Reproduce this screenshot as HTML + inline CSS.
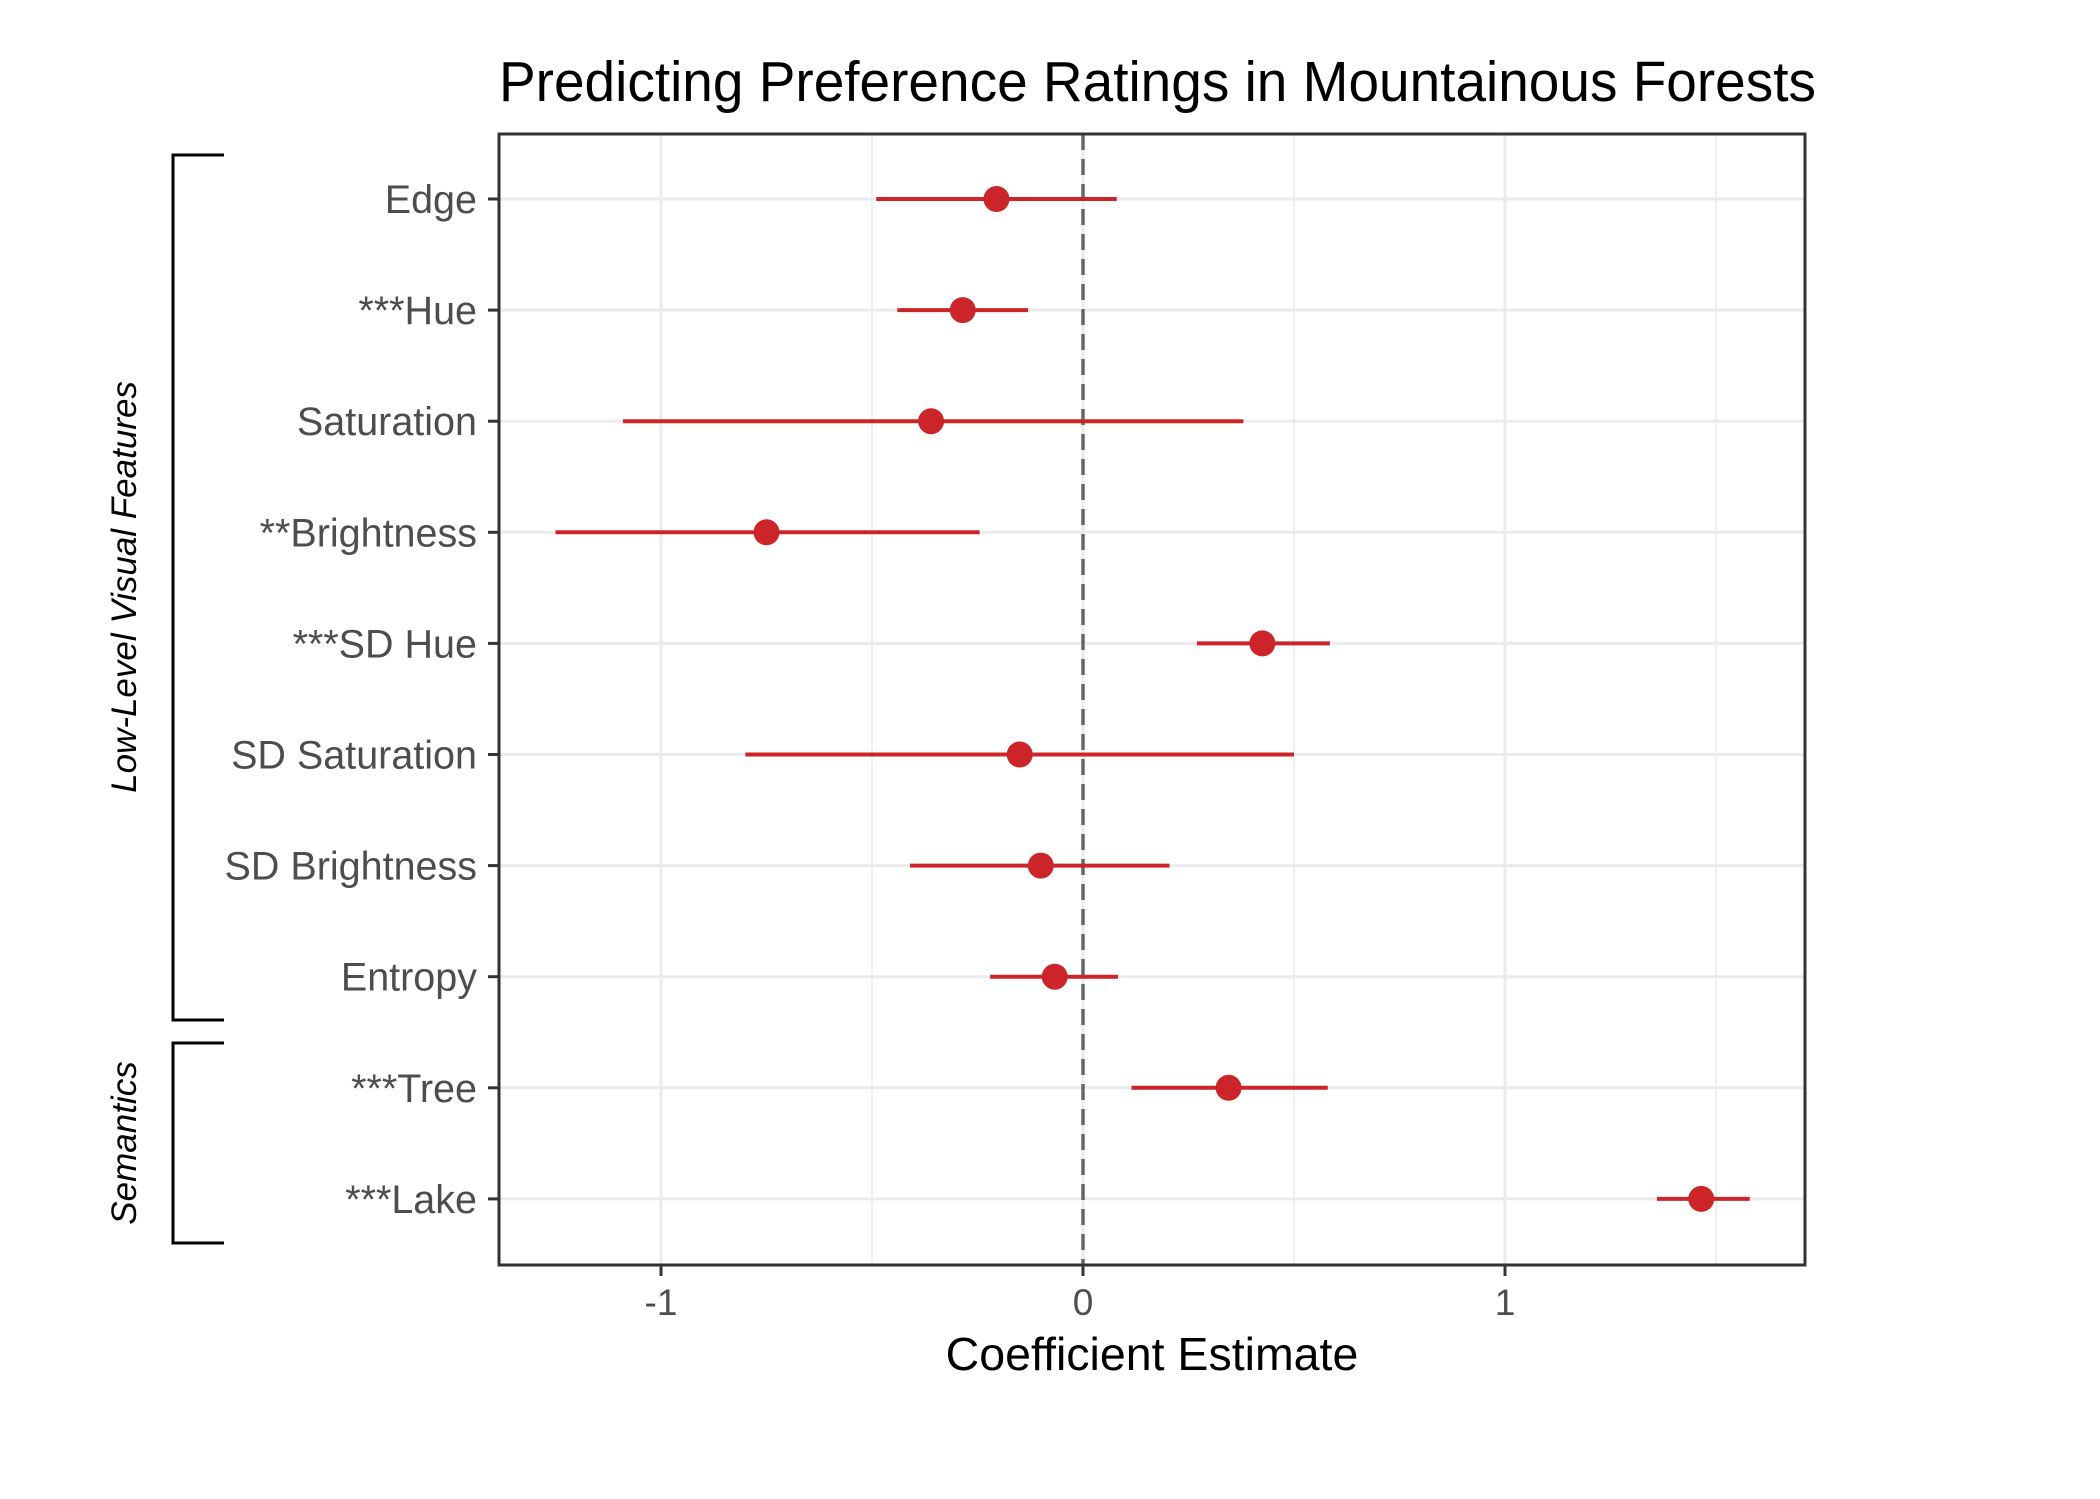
<!DOCTYPE html>
<html><head><meta charset="utf-8"><style>
html,body{margin:0;padding:0;background:#fff}
svg{display:block}
text{font-family:"Liberation Sans",Arial,sans-serif}
</style></head><body>
<svg id="chart" width="2100" height="1499" viewBox="0 0 2100 1499" xmlns="http://www.w3.org/2000/svg">
<rect width="2100" height="1499" fill="#fff"/>
<text x="499" y="101" font-size="57" fill="#000" textLength="1317" lengthAdjust="spacingAndGlyphs">Predicting Preference Ratings in Mountainous Forests</text>
<g id="grid"></g>
<g id="marks"></g>
<rect x="499" y="134" width="1306" height="1131" fill="none" stroke="#333" stroke-width="3"/>
<g id="axes"></g>
<text x="1152" y="1370" font-size="46.5" fill="#000" text-anchor="middle">Coefficient Estimate</text>
<g>
<polyline points="224,155 173,155 173,1020 224,1020" fill="none" stroke="#000" stroke-width="3"/>
<text transform="translate(136,587) rotate(-90)" font-size="35" font-style="italic" text-anchor="middle" fill="#000">Low-Level Visual Features</text>
</g>
<g>
<polyline points="224,1043 173,1043 173,1243 224,1243" fill="none" stroke="#000" stroke-width="3"/>
<text transform="translate(136,1143) rotate(-90)" font-size="35" font-style="italic" text-anchor="middle" fill="#000">Semantics</text>
</g>
</svg>
<script>
const categories = ["Edge","***Hue","Saturation","**Brightness","***SD Hue","SD Saturation","SD Brightness","Entropy","***Tree","***Lake"];
const estimates = [-0.205,-0.285,-0.36,-0.75,0.425,-0.15,-0.10,-0.067,0.345,1.465];
const lowerCI = [-0.49,-0.44,-1.09,-1.25,0.27,-0.80,-0.41,-0.22,0.115,1.36];
const upperCI = [0.08,-0.13,0.38,-0.245,0.585,0.50,0.205,0.083,0.58,1.58];
const xTicks = [-1,0,1];
const xMinor = [-0.5,0.5,1.5];

const NS="http://www.w3.org/2000/svg";
const L=499,R=1805,T=134,B=1265;
const x=v=>1083+v*422;
const y=i=>199+i*111.1;
function mk(tag,attrs,parent){const e=document.createElementNS(NS,tag);for(const k in attrs)e.setAttribute(k,attrs[k]);parent.appendChild(e);return e;}
const grid=document.getElementById('grid'),marks=document.getElementById('marks'),axes=document.getElementById('axes');
xMinor.forEach(v=>{if(x(v)<R){const l=mk('line',{x1:x(v),x2:x(v),y1:T,y2:B,stroke:'#EBEBEB','stroke-width':1.5},grid);

}});
xTicks.forEach(v=>{const l=mk('line',{x1:x(v),x2:x(v),y1:T,y2:B,stroke:'#EBEBEB','stroke-width':3},grid);


const t=mk('line',{x1:x(v),x2:x(v),y1:B,y2:B+11,stroke:'#333','stroke-width':3},axes);


const tx=mk('text',{x:x(v),y:1315,'font-size':37,fill:'#4D4D4D','text-anchor':'middle'},axes);
tx.textContent=v;

});
categories.forEach((c,i)=>{const g=mk('line',{x1:L,x2:R,y1:y(i),y2:y(i),stroke:'#EBEBEB','stroke-width':3},grid);


const t=mk('line',{x1:L-11,x2:L,y1:y(i),y2:y(i),stroke:'#333','stroke-width':3},axes);


const tx=mk('text',{x:477,y:y(i)+14,'font-size':39.5,fill:'#4D4D4D','text-anchor':'end'},axes);
tx.textContent=c;

});
const z=mk('line',{x1:x(0),x2:x(0),y1:T,y2:B,stroke:'#666','stroke-width':3.5,'stroke-dasharray':'16,9'},marks);


categories.forEach((c,i)=>{const l=mk('line',{x1:x(lowerCI[i]),x2:x(upperCI[i]),y1:y(i),y2:y(i),stroke:'#CC2529','stroke-width':4},marks);


const p=mk('circle',{cx:x(estimates[i]),cy:y(i),r:13,fill:'#CC2529'},marks);

});
</script>
</body></html>
